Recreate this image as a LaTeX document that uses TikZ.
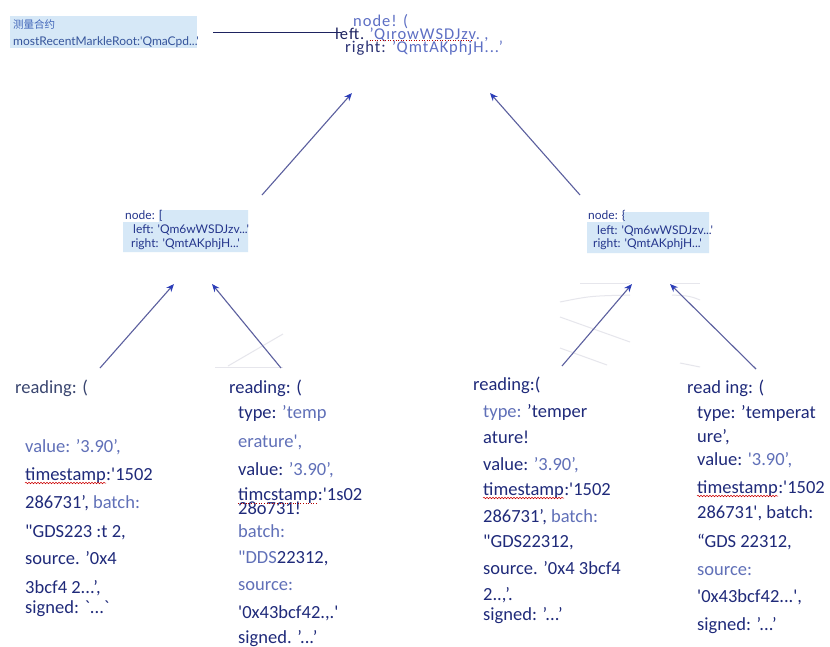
\documentclass[tikz,border=0pt]{standalone}
\usepackage{fontspec}
\usetikzlibrary{arrows.meta,decorations.pathmorphing}
\newfontfamily\rfont[Ligatures=TeXOff]{Carlito}
\newfontfamily\rootfont[Ligatures=TeXOff,LetterSpace=6]{Carlito}
\newfontfamily\latofont[Ligatures=TeXOff]{Lato}
\newfontfamily\cjkfont{Noto Sans CJK SC}
\definecolor{dk}{HTML}{1F2A7A}
\definecolor{lt}{HTML}{6070B8}
\definecolor{hd}{HTML}{3A4670}
\definecolor{boxblue}{HTML}{D6E8F7}
\definecolor{midtxt}{HTML}{24358C}
\definecolor{lineblue}{HTML}{5B5F9E}
\definecolor{tipblue}{HTML}{2B3DB8}
\definecolor{faint}{HTML}{E6E6EC}
\definecolor{rootlt}{HTML}{5D6FC4}
\definecolor{rootdk}{HTML}{1E2360}
\definecolor{cjkblue}{HTML}{3F64B8}
\tikzset{
  rt/.style={inner sep=0pt, anchor=base west, text=dk, font=\rfont\fontsize{18.5}{20}\selectfont},
  roott/.style={inner sep=0pt, anchor=base west, text=rootdk, font=\rootfont\fontsize{16.5}{18}\selectfont},
  midt/.style={inner sep=0pt, anchor=base west, text=midtxt, font=\latofont\fontsize{12}{14}\selectfont},
  arr/.style={draw=lineblue, line width=1.1pt, -{Stealth[length=8pt,width=6.5pt,color=tipblue]}},
  squig/.style={draw=red!80!black, line width=0.5pt, decorate, decoration={snake,amplitude=0.8pt,segment length=3pt}},
  dotul/.style={draw=red!70!black, line width=0.6pt, dotted},
  faintline/.style={draw=faint, line width=1pt}
}
\newcommand{\RL}[4]{\node[rt] (#1) at (#2,{#3+5}) {#4};}
\begin{document}
\begin{tikzpicture}[x=1pt,y=-1pt]
\useasboundingbox (0,0) rectangle (830,646);
\fill[white] (0,0) rectangle (830,646);

% faint background strokes
\draw[faintline] (215,367) -- (283,367);
\draw[faintline] (228,366) -- (283,334);
\draw[faintline] (580,283) -- (630,283);
\draw[faintline] (673,283) -- (700,283);
\draw[faintline] (560,302) .. controls (590,296) .. (630,295);
\draw[faintline] (672,295) .. controls (690,296) .. (700,300);
\draw[faintline] (560,317) -- (630,342);
\draw[faintline] (560,348) -- (607,365);
\draw[faintline] (680,363) -- (700,367);

% top-left contract box
\node[fill=boxblue, inner sep=0pt, minimum width=187pt, minimum height=32pt, anchor=north west] (tl) at (10,16) {};
\node[inner sep=0pt, anchor=base west, text=cjkblue, font=\cjkfont\fontsize{10.5}{12}\selectfont] (tlcn) at (13,28) {测量合约};
\node[midt, text=cjkblue!85!black] (tlroot) at (13,45.5) {mostRecentMarkleRoot:'QmaCpd...'};

% root node text
\node[roott, text=rootlt] (n0a) at (353,26) {node! (};
\node[roott] (n0b) at (335,39) {left.};
\node[roott, text=rootlt] (n0c) at ([xshift=5pt]n0b.base east) {’QırowWSDJzv.};
\node[roott, text=rootlt] (n0cc) at ([xshift=4pt]n0c.base east) {,};
\node[roott, text=rootdk!80!rootlt] (n0d) at (345,52) {right: \textcolor{rootlt}{’QmtAKphjH...’}};
\draw[dotul] ([yshift=-1.5pt]n0c.base west) -- ([yshift=-1.5pt,xshift=-8pt]n0c.base east);

% connector from contract box to root
\draw[draw=rootdk, line width=1pt, shorten <=16pt] (tl.east) -- ([xshift=6pt]n0b.west |- tl.east);

% mid-left node
\fill[boxblue] (159,210) -- (248,210) -- (248,252) -- (123,252) -- (123,222) -- (159,222) -- cycle;
\node[midt] (m1a) at (125,219.5) {node: [};
\node[midt] (m1b) at (133,233.5) {left: 'Qm6wWSDJzv...'};
\node[midt] (m1c) at (131,247.5) {right: 'QmtAKphjH...'};

% mid-right node
\fill[boxblue] (623,212) -- (709,212) -- (709,253) -- (587,253) -- (587,222) -- (623,222) -- cycle;
\node[midt] (m2a) at (588,219.5) {node: \{};
\node[midt] (m2b) at (597,234.5) {left: 'Qm6wWSDJzv...'};
\node[midt] (m2c) at (593,247.5) {right: 'QmtAKphjH...'};

% reading 1
\RL{r1hd}{15}{388}{\textcolor{hd}{reading: (}}
\RL{r1a}{25}{447}{\textcolor{lt}{value: ’3.90’,}}
\RL{ts1}{25}{475}{timestamp}
\node[rt] (r1b) at (ts1.base east) {:'1502};
\RL{r1c}{25}{503}{286731’, \textcolor{lt}{batch:}}
\RL{r1d}{25}{532}{"GDS223 :t 2,}
\RL{r1e}{25}{559}{source. ’0x4}
\RL{r1f}{25}{588}{3bcf4 2...’,}
\RL{r1g}{25}{608}{signed: `...`}
\draw[squig] ([yshift=-3pt]ts1.base west) -- ([yshift=-3pt]ts1.base east);

% reading 2
\RL{r2hd}{229}{388}{reading: (}
\RL{r2a}{238}{413}{type: \textcolor{lt}{’temp}}
\RL{r2b}{238}{442}{\textcolor{lt}{erature',}}
\RL{r2c}{238}{470}{value: \textcolor{lt}{’3.90’,}}
\RL{ts2}{238}{495}{timcstamp}
\node[rt] (r2d) at (ts2.base east) {:'1s02};
\RL{r2e}{238}{509}{28o731!}
\RL{r2f}{238}{532}{\textcolor{lt}{batch:}}
\RL{r2g}{238}{558}{\textcolor{lt}{"DDS}22312,}
\RL{r2i}{238}{585}{\textcolor{lt}{source:}}
\RL{r2j}{238}{613}{'0x43bcf42.,.'}
\RL{r2k}{238}{638}{signed. ’...’}
\draw[dotul] ([yshift=-3pt]ts2.base west) -- ([yshift=-3pt]ts2.base east);

% reading 3
\RL{r3hd}{473}{385}{reading:(}
\RL{r3a}{483}{412}{\textcolor{lt}{type:} ’temper}
\RL{r3b}{483}{438}{ature!}
\RL{r3c}{483}{465}{value: \textcolor{lt}{’3.90’,}}
\RL{ts3}{483}{490}{timestamp}
\node[rt] (r3d) at (ts3.base east) {:'1502};
\RL{r3e}{483}{517}{286731’, \textcolor{lt}{batch:}}
\RL{r3f}{483}{542}{"GDS22312,}
\RL{r3g}{483}{569}{source. ’0x4 3bcf4}
\RL{r3h}{483}{595}{2..,’.}
\RL{r3i}{483}{615}{signed: ’...’}
\draw[squig] ([yshift=-3pt]ts3.base west) -- ([yshift=-3pt]ts3.base east);

% reading 4
\RL{r4hd}{687}{388}{read ing: (}
\RL{r4a}{697}{413}{type: ’temperat}
\RL{r4b}{697}{437}{ure’,}
\RL{r4c}{697}{460}{value: \textcolor{lt}{'3.90’,}}
\RL{ts4}{697}{488}{timestamp}
\node[rt] (r4d) at (ts4.base east) {:'1502};
\RL{r4e}{697}{513}{286731', batch:}
\RL{r4f}{697}{542}{“GDS 22312,}
\RL{r4g}{697}{570}{\textcolor{lt}{source:}}
\RL{r4h}{697}{597}{'0x43bcf42...',}
\RL{r4i}{697}{625}{signed: ’...’}
\draw[squig] ([yshift=-3pt]ts4.base west) -- ([yshift=-3pt]ts4.base east);

% connector end points
\coordinate (rootinL) at (352,93);
\coordinate (rootinR) at (490,93);
\coordinate (m1out) at (262,195);
\coordinate (m2out) at (580,195);
\coordinate (m1inL) at (174,284);
\coordinate (m1inR) at (212,284);
\coordinate (m2inL) at (632,284);
\coordinate (m2inR) at (670,284);
\coordinate (r1out) at (100,368);
\coordinate (r2out) at (281,368);
\coordinate (r3out) at (562,366);
\coordinate (r4out) at (756,369);

\draw[arr] (m1out) -- (rootinL);
\draw[arr] (m2out) -- (rootinR);
\draw[arr] (r1out) -- (m1inL);
\draw[arr] (r2out) -- (m1inR);
\draw[arr] (r3out) -- (m2inL);
\draw[arr] (r4out) -- (m2inR);
\end{tikzpicture}
\end{document}
